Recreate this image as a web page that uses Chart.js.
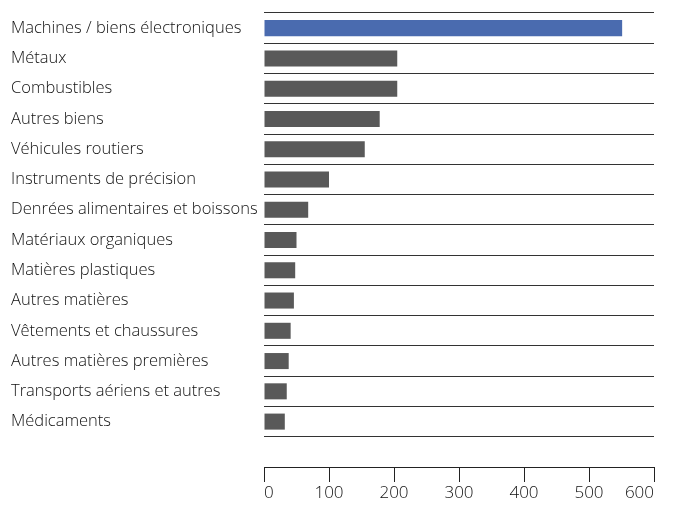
<!DOCTYPE html>
<html>
<head>
<meta charset="utf-8">
<script src="https://cdn.jsdelivr.net/npm/chart.js@4"></script>
<style>
  html, body { margin: 0; padding: 0; background: #fff; }
  #wrap { width: 684px; height: 507px; position: relative; }
</style>
</head>
<body>
<div id="wrap"><canvas id="chart"></canvas></div>
<script>
// Catégories (de haut en bas)
var categories = [
  'Machines / biens électroniques',
  'Métaux',
  'Combustibles',
  'Autres biens',
  'Véhicules routiers',
  'Instruments de précision',
  'Denrées alimentaires et boissons',
  'Matériaux organiques',
  'Matières plastiques',
  'Autres matières',
  'Vêtements et chaussures',
  'Autres matières premières',
  'Transports aériens et autres',
  'Médicaments'
];

// Valeurs
var values = [551, 205, 205, 178, 155, 100, 68, 50, 48, 46, 41, 38, 35, 32];

// Graduations de l'axe x
var xTicks = [0, 100, 200, 300, 400, 500, 600];

var BLUE = '#4a6baf';
var GREY = '#595959';
var TEXT = '#111111';
var FONT = { family: '"Open Sans", sans-serif', size: 16.5, weight: '300' };
var XFONT = { family: '"Open Sans", sans-serif', size: 17, weight: '300' };

// ligne vide en bas : laisse l'espace entre la dernière ligne et l'axe
var labels = categories.concat(['']);

new Chart(document.getElementById('chart'), {
  type: 'bar',
  data: {
    labels: labels,
    datasets: [{
      data: values,
      backgroundColor: function (ctx) { return ctx.dataIndex === 0 ? BLUE : GREY; },
      borderWidth: 0,
      barPercentage: 0.53,
      categoryPercentage: 1
    }]
  },
  options: {
    indexAxis: 'y',
    responsive: true,
    maintainAspectRatio: false,
    animation: false,
    layout: { padding: { left: 11, top: 13, right: 30, bottom: 0 } },
    plugins: { legend: { display: false }, tooltip: { enabled: false } },
    scales: {
      y: {
        grid: { offset: true, color: '#333', lineWidth: 1, drawTicks: false },
        border: { display: false },
        ticks: { crossAlign: 'far', color: TEXT, font: FONT, padding: 0 },
        afterFit: function (s) { s.width = 253; }
      },
      x: {
        min: xTicks[0],
        max: xTicks[xTicks.length - 1],
        afterBuildTicks: function (s) { s.ticks = xTicks.map(function (v) { return { value: v }; }); },
        ticks: { align: 'inner', color: TEXT, font: XFONT, padding: 1 },
        grid: { drawOnChartArea: false, drawTicks: true, tickLength: 15, color: '#222' },
        border: { display: true, color: '#222', width: 1 },
        afterFit: function (s) { s.height = 40; }
      }
    }
  }
});
</script>
</body>
</html>
